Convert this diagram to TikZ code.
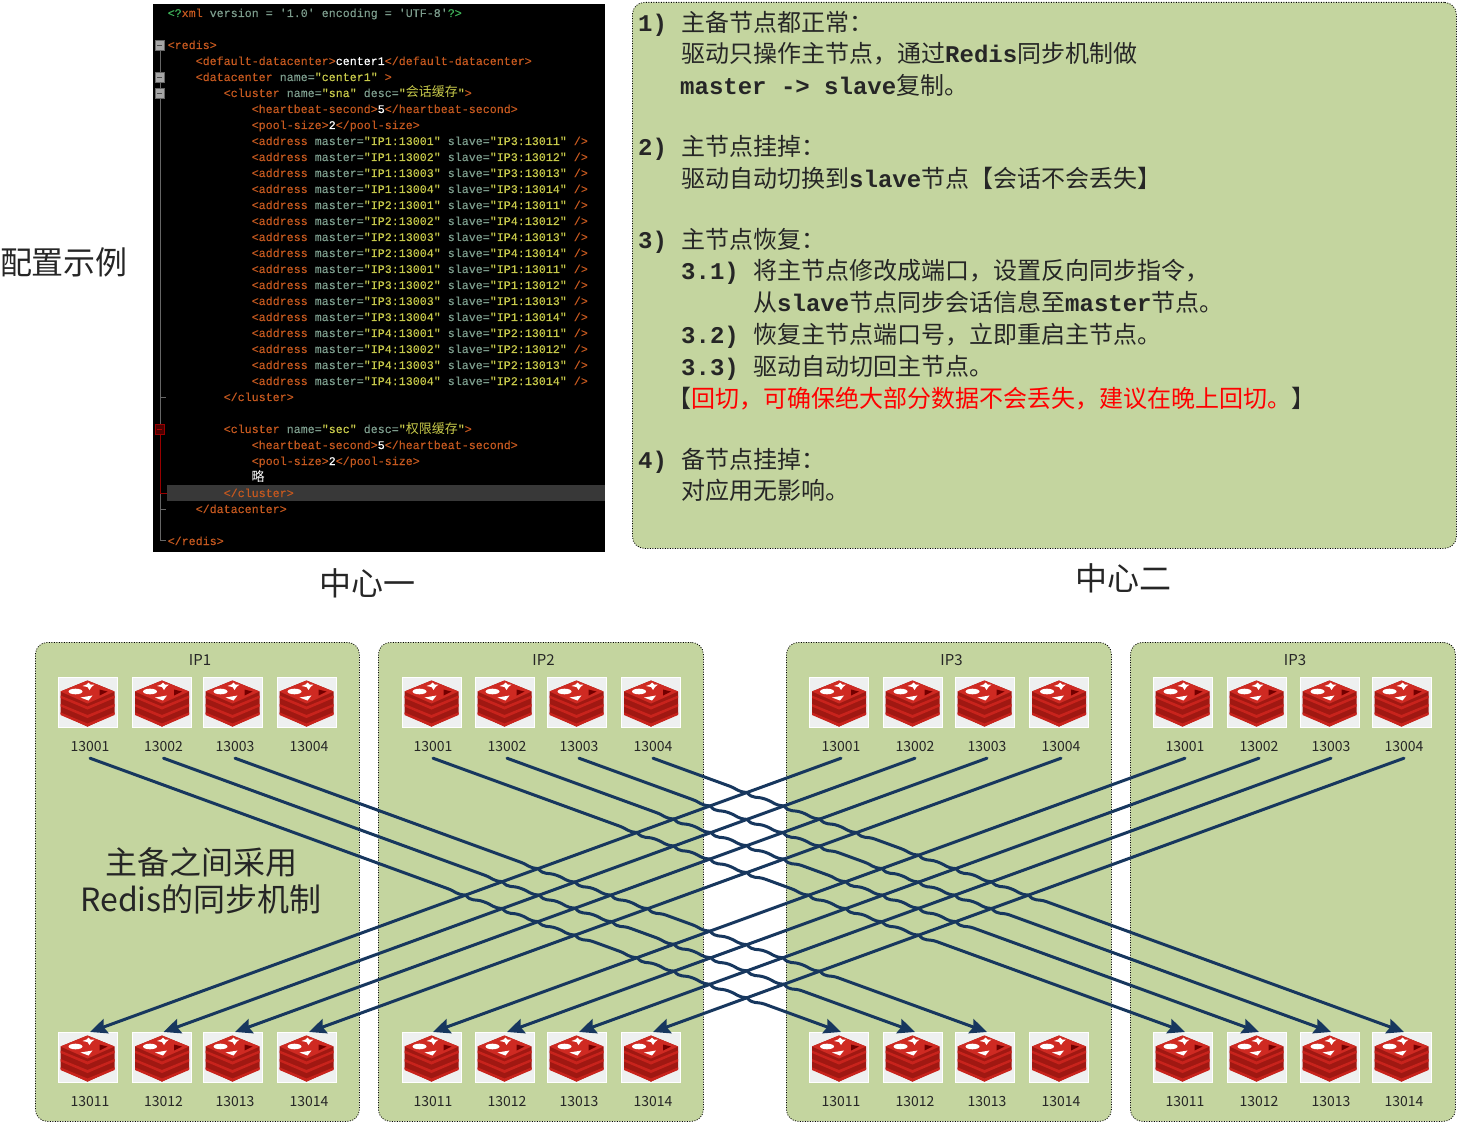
\documentclass[tikz,border=0pt]{standalone}
\usepackage{fontspec}
\setmainfont{Noto Sans CJK SC}
\newfontfamily\monofont{Liberation Mono}
\newfontfamily\codefont[FakeBold=0.25]{Liberation Mono}
\usetikzlibrary{calc, arrows.meta}
\definecolor{panelgreen}{HTML}{C4D59F}
\definecolor{linkblue}{HTML}{17375E}
\definecolor{tagorange}{HTML}{C4581F}
\definecolor{attrgreen}{HTML}{7C9C8C}
\definecolor{valyellow}{HTML}{C8CA4A}
\definecolor{xmlgreen}{HTML}{3FB45A}
\definecolor{iconbg}{HTML}{EEF0F0}
\definecolor{redisdark}{HTML}{A01812}
\definecolor{redismain}{HTML}{C8231C}
\definecolor{redistop}{HTML}{CF2A22}
\newcommand{\fs}[1]{\fontsize{#1}{#1}\selectfont}
\newcommand{\en}[1]{{\monofont\bfseries #1}}
\newcommand{\tg}[1]{\textcolor{tagorange}{#1}}
\newcommand{\at}[1]{\textcolor{attrgreen}{#1}}
\newcommand{\vl}[1]{\textcolor{valyellow}{#1}}
\newcommand{\wt}[1]{\textcolor{white}{#1}}
\newcommand{\cn}[1]{{\fs{13}\normalfont #1}}
\tikzset{
  % Green rounded panels
  panel/.style={draw=black, line width=0.8pt, dash pattern=on 1pt off 1.5pt,
    fill=panelgreen, rounded corners=12pt, anchor=north west, inner sep=0pt},
  % Redis icon box
  iconbox/.style={draw=white, line width=1pt, fill=iconbg, minimum width=59pt,
    minimum height=50pt, inner sep=0pt},
  % Text
  port/.style={font=\fs{14}, text=black!85, inner sep=0pt, minimum height=22pt},
  iplabel/.style={font=\fs{15}, text=black!85, inner sep=0pt},
  bigtext/.style={font=\fs{32}, text=black!85, inner sep=0pt, align=center},
  code/.style={font=\codefont\fs{11.67}, anchor=base west, inner sep=0pt},
  note/.style={font=\fs{24}, text=black!85, anchor=base west, inner sep=0pt},
  % Replication links
  linkline/.style={draw=linkblue, line width=3pt, line cap=round,
    -{Stealth[length=17pt, width=15pt, inset=2.5pt]}},
  % Redis logo
  redisicon/.pic={
    \fill[redisdark] (-27,-11) -- (0,-22) -- (27,-11) -- (27,11) -- (0,24)
      -- (-27,11) -- cycle;
    \foreach \k in {17,8.5,0} {
      \fill[redismain] (-27,-4.5+\k) -- (0,7+\k) -- (27,-4.5+\k) -- (27,-7+\k)
        -- (0,4+\k) -- (-27,-7+\k) -- cycle;
    }
    \fill[redismain] (-27,10) -- (0,22) -- (27,10) -- (27,11.5) -- (0,24)
      -- (-27,11.5) -- cycle;
    \fill[redistop] (-27,-11) -- (0,-22) -- (27,-11) -- (0,1) -- cycle;
    \fill[white] (-12,-11) ellipse [x radius=7, y radius=2.8];
    \fill[white] (1,-20) -- (3,-18) -- (7,-18) -- (4,-15.5) -- (2,-12.5) -- (0,-15.5)
      -- (-5,-16.5) -- (-1,-18) -- cycle;
    \fill[white] (-7,-5) -- (5,-7) -- (1,-2) -- cycle;
    \fill[red!45!black] (12,-13) -- (20,-11) -- (12,-7) -- cycle;
  },
}
% Upward links, from left to right: top column / bottom column
\def\uplist{9/1,10/2,11/3,12/4,13/5,14/6,15/7,16/8}
% Downward link which jogs at each upward link it crosses
\newcommand{\jogline}[2]{%
  \path (#1); \pgfgetlastxy{\xa}{\ya}
  \path (#2); \pgfgetlastxy{\xb}{\yb}
  \pgfmathsetmacro\dxa{(\xb-\xa)/100}
  \pgfmathsetmacro\dya{(\yb-\ya)/100}
  \pgfmathsetmacro\lena{veclen(\dxa,\dya)}
  \pgfmathsetmacro\ux{\dxa/\lena}
  \pgfmathsetmacro\uy{\dya/\lena}
  \gdef\jogpath{}
  \foreach \p/\q in \uplist {
    \path (tl\p.south); \pgfgetlastxy{\xc}{\yc}
    \path (b\q.north -| bl\q); \pgfgetlastxy{\xd}{\yd}
    \pgfmathsetmacro\dxb{(\xd-\xc)/100}
    \pgfmathsetmacro\dyb{(\yd-\yc)/100}
    \pgfmathsetmacro\den{\dxa*\dyb-\dya*\dxb}
    \pgfmathsetmacro\jt{((\xc-\xa)/100*\dyb-(\yc-\ya)/100*\dxb)/\den}
    \pgfmathsetmacro\px{\xa+100*\jt*\dxa}
    \pgfmathsetmacro\py{\ya+100*\jt*\dya}
    \pgfmathsetmacro\ax{\px-19*\ux}
    \pgfmathsetmacro\ay{\py-19*\uy}
    \pgfmathsetmacro\bx{\px+19*\ux}
    \pgfmathsetmacro\by{\py+19*\uy}
    \pgfmathsetmacro\cax{\px-10*\ux}
    \pgfmathsetmacro\cay{\py-10*\uy}
    \pgfmathsetmacro\cbx{\px+10*\ux}
    \pgfmathsetmacro\cby{\py+10*\uy}
    \pgfmathsetmacro\fx{\px-10}
    \pgfmathsetmacro\fy{\py+0.8}
    \pgfmathsetmacro\sx{\px+6}
    \pgfmathsetmacro\sy{\py-7}
    \xdef\jogpath{\jogpath -- (\ax pt,\ay pt)
      .. controls (\cax pt,\cay pt) and (\fx pt,\fy pt) .. (\px pt,\py pt)
      .. controls (\sx pt,\sy pt) and (\cbx pt,\cby pt) .. (\bx pt,\by pt)}
  }
  \edef\cmd{\noexpand\draw[linkline] (#1) \jogpath -- (#2);}\cmd
}

\begin{document}
\begin{tikzpicture}[x=1pt, y=-1pt]
  \useasboundingbox (0,0) rectangle (1457,1123);

  % Titles
  \node[bigtext] (sample) at (64,262) {配置示例};
  \node[bigtext] (center1) at (367,583) {中心一};
  \node[bigtext] (center2) at (1123,578) {中心二};

  % Configuration listing
  \fill[black] (153,4) rectangle (605,552);
  \fill[black!78] (167,485) rectangle (605,501);
  \draw[black!60, line width=1pt] (160,50) -- (160,540) -- (166,540);
  \draw[black!60, line width=1pt] (160,397) -- (166,397);
  \draw[black!60, line width=1pt] (160,509) -- (166,509);
  \draw[red!60!black, line width=1pt] (160,429) -- (160,493) -- (167,493);
  \foreach \y in {45,77,93} {
    \draw[black!60, fill=black!35] (155,\y-5) rectangle (164,\y+5);
    \draw[black!70] (157,\y) -- (162,\y);
  }
  \draw[red!60!black, fill=red!30!black] (155,424) rectangle (164,434);
  \draw[red!70!black] (157,429) -- (162,429);

  \node[code] (xml) at (167.5,17) {\textcolor{xmlgreen}{<?}\tg{xml} \at{version = '1.0' encoding = 'UTF-8'}\textcolor{xmlgreen}{?>}};
  \node[code] (redis) at (167.5,49) {\tg{<redis>}};
  \node[code] (defdc) at (195.5,65) {\tg{<default-datacenter>}\wt{center1}\tg{</default-datacenter>}};
  \node[code] (dc) at (195.5,81) {\tg{<datacenter} \at{name=}\vl{"center1"} \tg{>}};
  \node[code] (sna) at (223.5,97) {\tg{<cluster} \at{name=}\vl{"sna"} \at{desc=}\vl{"\cn{会话缓存}"}\tg{>}};
  \node[code] (beat1) at (251.5,113) {\tg{<heartbeat-second>}\wt{5}\tg{</heartbeat-second>}};
  \node[code] (pool1) at (251.5,129) {\tg{<pool-size>}\wt{2}\tg{</pool-size>}};
  \foreach \m/\s/\r in {1/3/0,2/4/1,3/1/2,4/2/3}
    \foreach \n in {1,2,3,4} {
      \node[code] (addr\m\n) at (251.5,{145+16*(4*\r+\n-1)}) {\tg{<address} \at{master=}\vl{"IP\m:1300\n"} \at{slave=}\vl{"IP\s:1301\n"} \tg{/>}};
    }
  \node[code] (endsna) at (223.5,401) {\tg{</cluster>}};
  \node[code] (sec) at (223.5,433) {\tg{<cluster} \at{name=}\vl{"sec"} \at{desc=}\vl{"\cn{权限缓存}"}\tg{>}};
  \node[code] (beat2) at (251.5,449) {\tg{<heartbeat-second>}\wt{5}\tg{</heartbeat-second>}};
  \node[code] (pool2) at (251.5,465) {\tg{<pool-size>}\wt{2}\tg{</pool-size>}};
  \node[code] (omit) at (251.5,481) {\wt{\cn{略}}};
  \node[code] (endsec) at (223.5,497) {\tg{</cluster>}};
  \node[code] (enddc) at (195.5,513) {\tg{</datacenter>}};
  \node[code] (endredis) at (167.5,545) {\tg{</redis>}};

  % Notes
  \node[panel, minimum width=824pt, minimum height=546pt] (notes) at (632,2) {};
  \node[note] (n1) at (638,32) {\en{1)}};
  \node[note] (n1a) at (681,32) {主备节点都正常：};
  \node[note] (n1b) at (681,63) {驱动只操作主节点，通过\en{Redis}同步机制做};
  \node[note] (n1c) at (680,95) {\en{master -> slave}复制。};
  \node[note] (n2) at (638,156) {\en{2)}};
  \node[note] (n2a) at (681,156) {主节点挂掉：};
  \node[note] (n2b) at (681,188) {驱动自动切换到\en{slave}节点【会话不会丢失】};
  \node[note] (n3) at (638,249) {\en{3)}};
  \node[note] (n3a) at (681,249) {主节点恢复：};
  \node[note] (n31) at (681,280) {\en{3.1)}};
  \node[note] (n31a) at (753,280) {将主节点修改成端口，设置反向同步指令，};
  \node[note] (n31b) at (753,312) {从\en{slave}节点同步会话信息至\en{master}节点。};
  \node[note] (n32) at (681,344) {\en{3.2)}};
  \node[note] (n32a) at (753,344) {恢复主节点端口号，立即重启主节点。};
  \node[note] (n33) at (681,375) {\en{3.3)}};
  \node[note] (n33a) at (753,375) {驱动自动切回主节点。};
  \node[note] (warn) at (667,407) {【\textcolor{red}{回切，可确保绝大部分数据不会丢失，建议在晚上回切。}】};
  \node[note] (n4) at (638,468) {\en{4)}};
  \node[note] (n4a) at (681,468) {备节点挂掉：};
  \node[note] (n4b) at (681,499) {对应用无影响。};

  % Hosts
  \node[panel, minimum width=324pt, minimum height=479pt] (ip1) at (35,642) {};
  \node[panel, minimum width=325pt, minimum height=479pt] (ip2) at (378,642) {};
  \node[panel, minimum width=325pt, minimum height=479pt] (ip3) at (786,642) {};
  \node[panel, minimum width=325pt, minimum height=479pt] (ip4) at (1130,642) {};
  \node[iplabel] (ip1name) at (200,660) {IP1};
  \node[iplabel] (ip2name) at (543.5,660) {IP2};
  \node[iplabel] (ip3name) at (951.5,660) {IP3};
  \node[iplabel] (ip4name) at (1295,660) {IP3};
  \node[bigtext] (sync) at (201,881) {主备之间采用\\[5pt]Redis的同步机制};

  % Redis instances: column / icon centre / label centre / port
  \foreach \c/\ix/\lx/\n in {1/87.5/90/1, 2/162/163.5/2, 3/232.5/235/3, 4/306.5/309/4,
      5/431.5/433/1, 6/504.5/507/2, 7/576.5/579/3, 8/651/653/4,
      9/839/841/1, 10/912.5/915/2, 11/984.5/987/3, 12/1059/1061/4,
      13/1182.5/1185/1, 14/1256.5/1259/2, 15/1329.5/1331/3, 16/1401.5/1404/4} {
    \node[iconbox] (t\c) at (\ix,702.5) {};
    \pic at (t\c) {redisicon};
    \node[port] (tl\c) at (\lx,747) {1300\n};
    \node[iconbox] (b\c) at (\ix,1057.5) {};
    \pic at (b\c) {redisicon};
    \node[port] (bl\c) at (\lx,1102) {1301\n};
  }

  % Links
  \foreach \s/\e in \uplist {
    \draw[linkline] (tl\s.south) -- (b\e.north -| bl\e);
  }
  \foreach \s/\e in {1/9,2/10,3/11,5/13,6/14,7/15,8/16} {
    \jogline{tl\s.south}{b\e.north -| bl\e}
  }
\end{tikzpicture}
\end{document}
